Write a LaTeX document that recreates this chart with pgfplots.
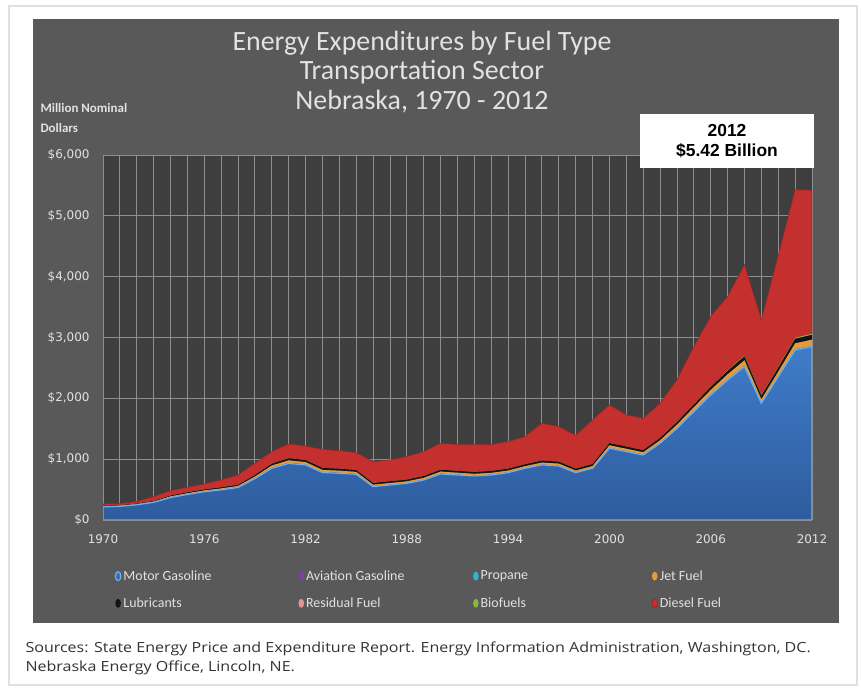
\documentclass[border=0pt]{standalone}
\usepackage{fontspec}
\setmainfont{Carlito}
\newfontfamily\dejavu{DejaVu Sans}
\newfontfamily\arialf{Liberation Sans}
\newfontfamily\opensans{Open Sans}
\usepackage{pgfplots}
\pgfplotsset{compat=1.18}
\usepackage{pgfplotstable}
\definecolor{panel}{HTML}{595959}
\definecolor{plotbg}{HTML}{3E3E3E}
\definecolor{gridc}{HTML}{8E8E8E}
\definecolor{mgastop}{HTML}{3F7CC8}
\definecolor{mgasbot}{HTML}{2E5C9E}
\definecolor{mgasedge}{HTML}{73AEE6}
\definecolor{avgas}{HTML}{7A3FA8}
\definecolor{propane}{HTML}{2FB5D6}
\definecolor{jet}{HTML}{E59A3C}
\definecolor{lub}{HTML}{141414}
\definecolor{resid}{HTML}{E79393}
\definecolor{bio}{HTML}{8DB23F}
\definecolor{diesel}{HTML}{C4302D}
\definecolor{labc}{HTML}{E2E2E2}

\pgfplotstableread{
year mgas avgas propane jet lub resid bio diesel
1970 215 4 1 6 8 1 0 28
1971 225 4 1 6 8 1 0 25
1972 250 4 1 7 9 1 0 33
1973 290 4 1 8 10 1 0 71
1974 370 5 1 12 14 1 0 79
1975 420 5 1 14 15 1 0 81
1976 465 5 1 15 16 1 0 89
1977 495 6 1 17 18 1 0 120
1978 535 6 1 18 19 1 0 160
1979 680 7 2 25 25 1 0 192
1980 850 8 2 35 30 1 0 197
1981 930 8 2 40 35 1 0 234
1982 905 7 2 38 33 1 0 229
1983 780 6 2 35 32 1 0 304
1984 768 6 2 35 32 1 0 296
1985 751 5 2 33 30 1 0 285
1986 548 5 2 25 28 1 0 350
1987 576 5 2 25 28 0 0 351
1988 603 5 2 25 28 0 0 379
1989 658 5 2 28 28 0 0 403
1990 757 5 2 32 30 0 0 436
1991 740 5 2 30 30 0 0 433
1992 724 5 2 28 30 0 0 449
1993 740 5 2 28 30 0 0 435
1994 778 5 2 28 30 0 0 445
1995 850 5 2 28 30 0 0 456
1996 905 5 2 32 32 0 0 614
1997 888 5 2 32 32 0 0 576
1998 778 5 2 28 30 0 0 547
1999 850 5 2 30 32 0 0 726
2000 1179 6 3 40 35 0 0 628
2001 1124 6 3 38 35 0 0 521
2002 1069 6 3 35 35 0 1 523
2003 1261 6 3 40 38 0 2 568
2004 1507 7 3 50 40 0 3 693
2005 1782 7 4 60 45 0 5 948
2006 2056 7 4 70 50 0 8 1149
2007 2303 8 4 80 55 0 10 1213
2008 2522 8 5 90 65 0 15 1489
2009 1919 6 4 55 60 0 12 1233
2010 2357 7 4 70 65 0 15 1827
2011 2796 8 5 95 75 0 18 2433
2012 2851 8 5 100 80 0 18 2358
}\data

\begin{document}
\begin{tikzpicture}
\path[use as bounding box] (0bp,0bp) rectangle (861bp,688bp);
\fill[white] (0bp,0bp) rectangle (861bp,688bp);
\draw[black!12, line width=2bp] (9bp,3bp) rectangle (857bp,682bp);
\fill[panel] (33bp,65bp) rectangle (839bp,669bp);
\begin{axis}[
  at={(103bp,168bp)}, anchor=south west,
  scale only axis, width=709bp, height=365bp,
  axis background/.style={fill=plotbg},
  xmin=1970, xmax=2012, ymin=0, ymax=6000,
  xtick={1970,1971,...,2012},
  xticklabels={1970,,,,,,1976,,,,,,1982,,,,,,1988,,,,,,1994,,,,,,2000,,,,,,2006,,,,,,2012},
  ytick={0,1000,...,6000},
  yticklabels={\$0,{\$1,000},{\$2,000},{\$3,000},{\$4,000},{\$5,000},{\$6,000}},
  grid=major,
  major grid style={gridc, line width=0.9bp},
  major tick length=0pt,
  axis line style={draw=none},
  x tick label style={font=\dejavu\fontsize{12}{13}\selectfont, text=labc, yshift=-11bp},
  y tick label style={font=\dejavu\fontsize{12}{13}\selectfont, text=labc, xshift=-10bp},
  stack plots=y,
  legend columns=4,
  legend style={at={(axis description cs:0.012,-0.127)}, anchor=north west,
    draw=none, fill=none, text=labc, font=\fontsize{14}{16}\selectfont,
    row sep=12bp},
  legend cell align=left,
  legend image code/.code={\fill[#1] (3bp,0bp) ellipse [x radius=2.8bp, y radius=4.5bp];},
]
\addplot[top color=mgastop, bottom color=mgasbot, draw=mgasedge, line width=1.2bp] table[x=year,y=mgas]{\data} \closedcycle;
\addlegendentry{\makebox[173bp][l]{Motor Gasoline}}
\addplot[fill=avgas, draw=none] table[x=year,y=avgas]{\data} \closedcycle;
\addlegendentry{\makebox[165bp][l]{Aviation Gasoline}}
\addplot[fill=propane, draw=none] table[x=year,y=propane]{\data} \closedcycle;
\addlegendentry{\makebox[169bp][l]{Propane}}
\addplot[fill=jet, draw=none] table[x=year,y=jet]{\data} \closedcycle;
\addlegendentry{\makebox[70bp][l]{Jet Fuel}}
\addplot[fill=lub, draw=none] table[x=year,y=lub]{\data} \closedcycle;
\addlegendentry{Lubricants}
\addplot[fill=resid, draw=none] table[x=year,y=resid]{\data} \closedcycle;
\addlegendentry{Residual Fuel}
\addplot[fill=bio, draw=none] table[x=year,y=bio]{\data} \closedcycle;
\addlegendentry{Biofuels}
\addplot[fill=diesel, draw=diesel!80!black, line width=0.6bp] table[x=year,y=diesel]{\data} \closedcycle;
\addlegendentry{Diesel Fuel}
\end{axis}
\node[text=labc, align=center, font=\fontsize{28}{30}\selectfont] at (422bp,616bp)
  {Energy Expenditures by Fuel Type\\Transportation Sector\\Nebraska, 1970 - 2012};
\node[text=labc, anchor=west, align=left, font=\bfseries\fontsize{13}{20}\selectfont] at (37bp,570bp)
  {Million Nominal\\Dollars};
\fill[white] (640bp,520bp) rectangle (814bp,574bp);
\node[align=center, font=\arialf\bfseries\fontsize{17.5}{20}\selectfont] at (727bp,547bp)
  {2012\\\$5.42 Billion};
\node[anchor=west, text=black!80] at (22bp,30bp)
  {\scalebox{1.15}[1]{\opensans\fontsize{14}{19}\selectfont\begin{tabular}{@{}l@{}}Sources: State Energy Price and Expenditure Report. Energy Information Administration, Washington, DC.\\Nebraska Energy Office, Lincoln, NE.\end{tabular}}};
\end{tikzpicture}
\end{document}
